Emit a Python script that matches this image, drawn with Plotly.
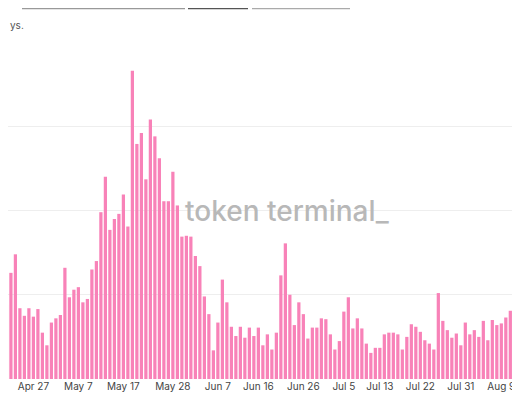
import pandas as pd
import plotly.graph_objects as go

dates = pd.date_range("2021-04-20", periods=118, freq="D")
values = [
    1.00, 0.88, 1.26, 1.48, 0.84, 0.75, 0.84, 0.74, 0.83, 0.55, 0.40, 0.67, 0.72, 0.76, 1.32,
    0.97, 1.06, 1.09, 0.91, 0.95, 1.30, 1.40, 1.98, 2.40, 1.77, 1.90, 1.96, 2.19, 1.81, 3.66,
    2.79, 2.92, 2.37, 3.08, 2.88, 2.62, 2.11, 2.11, 2.46, 2.06, 1.69, 1.70, 1.69, 1.46, 1.34,
    0.98, 0.77, 0.34, 0.67, 1.18, 0.91, 0.62, 0.51, 0.62, 0.49, 0.61, 0.51, 0.61, 0.40,
    0.53, 0.35, 0.55, 1.23, 1.61, 1.00, 0.64, 0.91, 0.77, 0.48, 0.61, 0.61, 0.72, 0.71, 0.53,
    0.35, 0.45, 0.80, 0.97, 0.60, 0.72, 0.60, 0.42, 0.31, 0.37, 0.37, 0.53, 0.55, 0.55, 0.53,
    0.35, 0.50, 0.65, 0.62, 0.56, 0.46, 0.42, 0.35, 1.02, 0.69, 0.58, 0.49, 0.54, 0.40, 0.67,
    0.53, 0.58, 0.50, 0.69, 0.46, 0.70, 0.64, 0.66, 0.73, 0.81, 0.85, 0.67, 0.67, 0.60,
]
tick_dates = ["2021-04-27", "2021-05-07", "2021-05-17", "2021-05-28", "2021-06-07",
              "2021-06-16", "2021-06-26", "2021-07-05", "2021-07-13", "2021-07-22",
              "2021-07-31", "2021-08-09"]
tick_text = ["Apr 27", "May 7", "May 17", "May 28", "Jun 7", "Jun 16", "Jun 26",
             "Jul 5", "Jul 13", "Jul 22", "Jul 31", "Aug 9"]

fig = go.Figure(go.Bar(x=dates, y=values, marker_color="#f882b8", marker_line_width=0))

# page puts the plot 8px in from the corner, so the range starts a bit later
fig.update_xaxes(range=["2021-04-21 08:30", "2021-08-14 22:20"], tickvals=tick_dates,
                 ticktext=tick_text, showgrid=False, ticks="", showline=False,
                 automargin=False, tickfont=dict(size=10, color="#444"))
fig.update_yaxes(range=[0, 4], dtick=1, showticklabels=False, gridcolor="#eeeeee",
                 zeroline=False, automargin=False)

fig.add_annotation(text="token terminal_", x=0.537, y=0.5, xref="paper", yref="paper",
                   showarrow=False, font=dict(size=28, color="#b8b8b8", family="Inter",
                                              weight=500))
fig.add_annotation(text="ys.", x=0, y=1.075, xref="paper", yref="paper", showarrow=False,
                   xanchor="left", font=dict(size=10, color="#555"))

for x0, x1, c in [(14, 177, "#999"), (180, 240, "#555"), (244, 342, "#aaa")]:
    fig.add_shape(type="line", xref="paper", yref="paper", x0=x0 / 520, x1=x1 / 520,
                  y0=1.1, y1=1.1, line=dict(color=c, width=2))

fig.update_layout(width=520, height=400, margin=dict(l=0, r=0, t=34, b=29),
                  plot_bgcolor="white", paper_bgcolor="white", bargap=0.28,
                  showlegend=False, font=dict(family="Inter"))

fig.write_html("out.html")
